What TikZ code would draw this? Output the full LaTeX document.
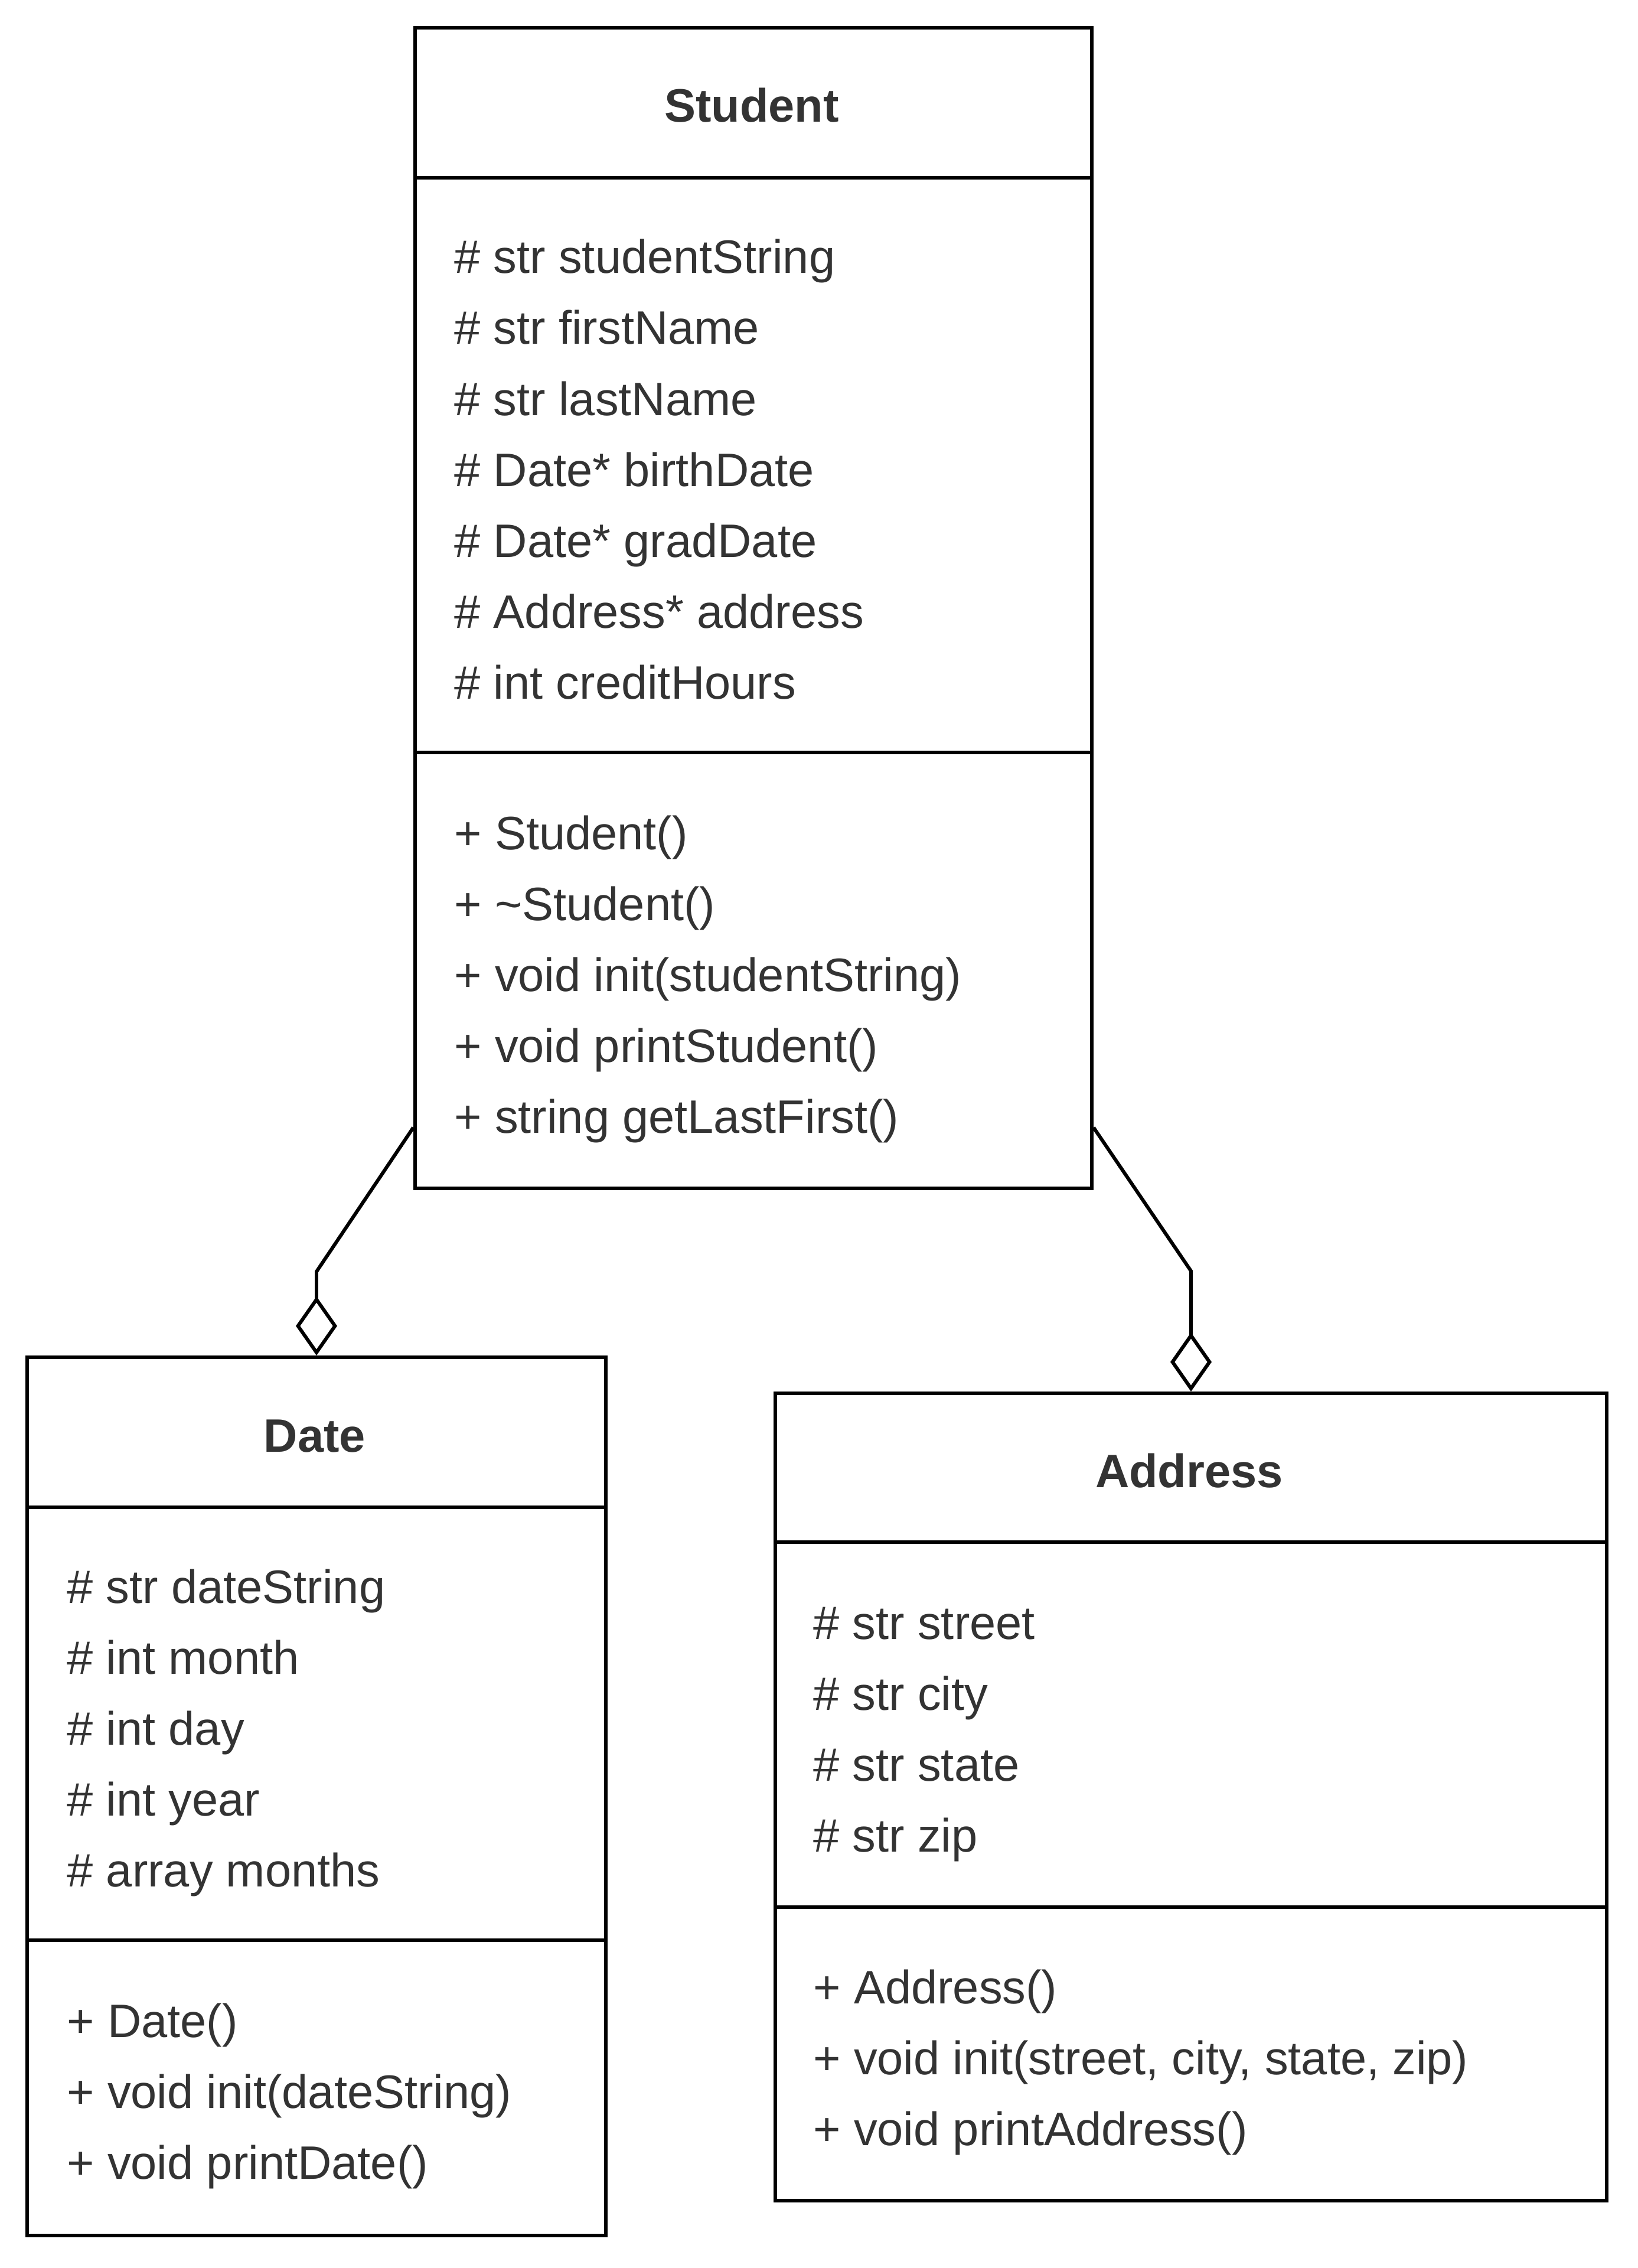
\documentclass[tikz,border=0pt]{standalone}
\usepackage{fontspec}
\setmainfont{Liberation Sans}
\usetikzlibrary{arrows.meta}
\definecolor{umltext}{HTML}{333333}
\tikzset{classbox/.style = {draw, rectangle, line width=1.7pt, inner sep=0pt, anchor=north west},
         member/.style = {anchor=base west, inner sep=0pt, text=umltext,
                          font=\fontsize{22.6}{34}\selectfont},
         classname/.style = {anchor=base, inner sep=0pt, text=umltext,
                             font=\fontsize{22.6}{34}\selectfont\bfseries},
         aggr/.style = {line width=1.7pt, -{Diamond[open, length=1.0cm, width=0.7cm]}}}

\begin{document}
\begin{tikzpicture}
      \useasboundingbox (0,0) rectangle (27.73,-38.40);

      % Student
      \node[classbox, minimum width=11.46cm, minimum height=19.65cm] (student) at (7.00,-0.44) {};
      \draw[line width=1.7pt] (7.00,-3.01) -- (18.46,-3.01);
      \draw[line width=1.7pt] (7.00,-12.74) -- (18.46,-12.74);
      \node[classname] (s-name) at (12.73,-2.07) {Student};
      \node[member] (s-a1) at (7.69,-4.63) {\# str studentString};
      \node[member] (s-a2) at (7.69,-5.83) {\# str firstName};
      \node[member] (s-a3) at (7.69,-7.03) {\# str lastName};
      \node[member] (s-a4) at (7.69,-8.23) {\# Date* birthDate};
      \node[member] (s-a5) at (7.69,-9.43) {\# Date* gradDate};
      \node[member] (s-a6) at (7.69,-10.63) {\# Address* address};
      \node[member] (s-a7) at (7.69,-11.83) {\# int creditHours};
      \node[member] (s-m1) at (7.69,-14.38) {+ Student()};
      \node[member] (s-m2) at (7.69,-15.58) {+ \string~Student()};
      \node[member] (s-m3) at (7.69,-16.78) {+ void init(studentString)};
      \node[member] (s-m4) at (7.69,-17.98) {+ void printStudent()};
      \node[member] (s-m5) at (7.69,-19.18) {+ string getLastFirst()};

      % Date
      \node[classbox, minimum width=9.80cm, minimum height=14.87cm] (date) at (0.43,-22.95) {};
      \draw[line width=1.7pt] (0.43,-25.52) -- (10.23,-25.52);
      \draw[line width=1.7pt] (0.43,-32.85) -- (10.23,-32.85);
      \node[classname] (d-name) at (5.33,-24.58) {Date};
      \node[member] (d-a1) at (1.13,-27.14) {\# str dateString};
      \node[member] (d-a2) at (1.13,-28.34) {\# int month};
      \node[member] (d-a3) at (1.13,-29.54) {\# int day};
      \node[member] (d-a4) at (1.13,-30.74) {\# int year};
      \node[member] (d-a5) at (1.13,-31.94) {\# array months};
      \node[member] (d-m1) at (1.13,-34.49) {+ Date()};
      \node[member] (d-m2) at (1.13,-35.69) {+ void init(dateString)};
      \node[member] (d-m3) at (1.13,-36.89) {+ void printDate()};

      % Address
      \node[classbox, minimum width=14.08cm, minimum height=13.67cm] (address) at (13.10,-23.56) {};
      \draw[line width=1.7pt] (13.10,-26.11) -- (27.18,-26.11);
      \draw[line width=1.7pt] (13.10,-32.29) -- (27.18,-32.29);
      \node[classname] (a-name) at (20.14,-25.18) {Address};
      \node[member] (a-a1) at (13.77,-27.75) {\# str street};
      \node[member] (a-a2) at (13.77,-28.95) {\# str city};
      \node[member] (a-a3) at (13.77,-30.15) {\# str state};
      \node[member] (a-a4) at (13.77,-31.35) {\# str zip};
      \node[member] (a-m1) at (13.77,-33.92) {+ Address()};
      \node[member] (a-m2) at (13.77,-35.12) {+ void init(street, city, state, zip)};
      \node[member] (a-m3) at (13.77,-36.32) {+ void printAddress()};

      % aggregations
      \draw[aggr] ([yshift=1.06cm]student.south west) -- ([yshift=1.42cm]date.north) -- (date.north);
      \draw[aggr] ([yshift=1.06cm]student.south east) -- ([yshift=2.04cm]address.north) -- (address.north);
    \end{tikzpicture}
\end{document}
